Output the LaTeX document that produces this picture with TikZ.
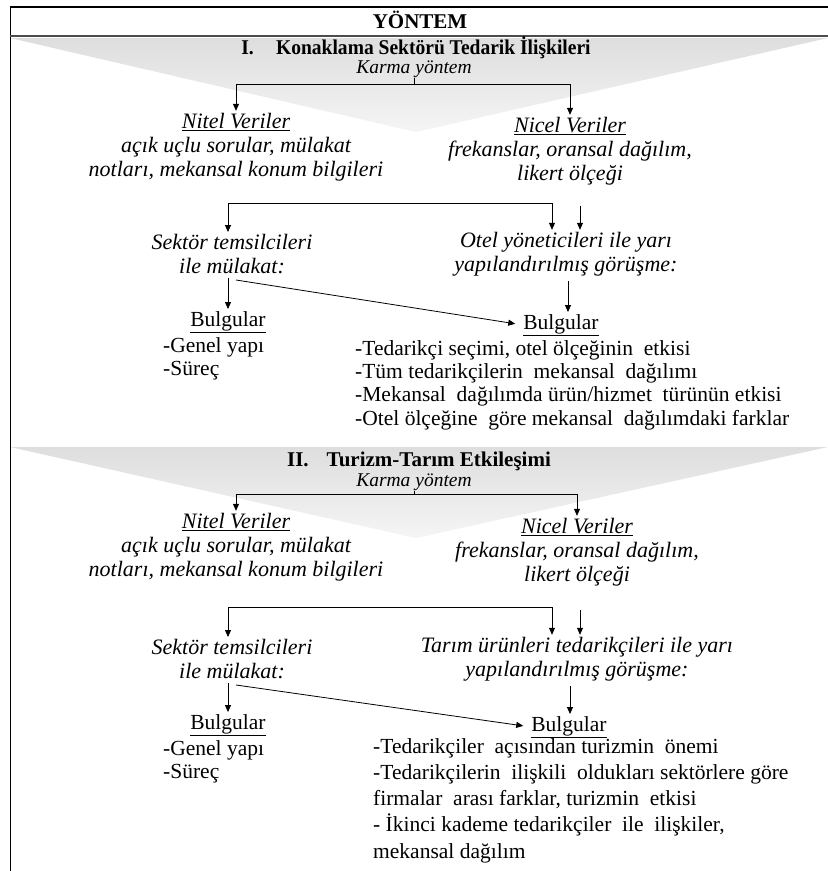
\documentclass[tikz,border=0pt]{standalone}
\usepackage{fontspec}
\setmainfont{Liberation Serif}
\usetikzlibrary{arrows.meta}
\begin{document}
\begin{tikzpicture}[x=1pt,y=-1pt,
  hd/.style={font=\bfseries\fontsize{21}{24}\selectfont, inner sep=0pt},
  itx/.style={font=\itshape\fontsize{22}{24}\selectfont, align=center, inner sep=0pt},
  kar/.style={font=\itshape\fontsize{19.5}{22}\selectfont, inner sep=0pt},
  rm/.style={font=\fontsize{21.5}{23.3}\selectfont, align=left, inner sep=0pt},
  rmb/.style={font=\fontsize{21.5}{26.2}\selectfont, align=left, inner sep=0pt},
  ul/.style={font=\fontsize{21.5}{24}\selectfont, inner sep=0pt},
  arr/.style={-{Triangle[length=7pt,width=6pt]}, line width=0.8pt, shorten >=2pt},
  ln/.style={line width=0.8pt},
  tri/.style={top color=black!13, bottom color=black!4}]
\useasboundingbox (0,0) rectangle (828,871);
% background chevrons
\shade[tri] (10,38) -- (828,38) -- (416,132) -- cycle;
\shade[tri] (10,447) -- (828,447) -- (416,538) -- cycle;
% frame
\draw[line width=1.4pt] (10,7) -- (828,7);
\draw[line width=1.4pt] (10.5,7) -- (10.5,871);
\draw[line width=1.6pt, black!70] (10,36) -- (828,36);
% ---------- Section I
\node[hd] (title) at (420,20) {YÖNTEM};
\node[hd] (h1) at (416,48) {\scalebox{0.93}[1]{I.\hspace{24pt}Konaklama Sektörü Tedarik İlişkileri}};
\node[kar] (k1) at (414,69) {Karma yöntem};
\coordinate (b1) at (414,84);
\node[itx] (nitel1) at (236,147) {\underline{Nitel Veriler}\\açık uçlu sorular, mülakat\\notları, mekansal konum bilgileri};
\node[itx] (nicel1) at (570,151) {\underline{Nicel Veriler}\\frekanslar, oransal dağılım,\\likert ölçeği};
\draw[ln] (k1.south) -- (b1);
\draw[arr] (b1) -| (nitel1.north);
\draw[arr] (b1) -| (nicel1.north);
\coordinate (c1) at (228,203);
\coordinate (d1) at (580,206);
\node[itx] (sek1) at (232,254) {Sektör temsilcileri\\ile mülakat:};
\node[itx] (otel1) at (566,254) {Otel yöneticileri ile yarı\\yapılandırılmış görüşme:};
\draw[arr] (c1) -- (c1 |- sek1.north);
\draw[arr] (c1) -| ([xshift=-14pt]otel1.north);
\draw[arr] (d1) -- (d1 |- otel1.north);
\node[ul] (bulL1) at (228,322) {\underline{Bulgular}};
\node[ul] (bulR1) at (561,325) {\underline{Bulgular}};
\draw[arr] ([yshift=-4pt]sek1.south -| bulL1.north) -- (bulL1.north);
\draw[arr, shorten >=8pt] ([shift={(4pt,-6pt)}]sek1.south) -- (bulR1.west);
\draw[arr] ([shift={(2pt,-5pt)}]otel1.south) -- ([xshift=2pt]otel1.south |- bulR1.north);
\node[rm, anchor=west] (gL1) at (163,358.5) {-Genel yapı\\-Süreç};
\node[rm, anchor=west] (gR1) at (355,385) {-Tedarikçi seçimi, otel ölçeğinin\ \ etkisi\\-Tüm tedarikçilerin\ \ mekansal\ \ dağılımı\\-Mekansal\ \ dağılımda ürün/hizmet\ \ türünün etkisi\\-Otel ölçeğine\ \ göre mekansal\ \ dağılımdaki farklar};
% ---------- Section II
\node[hd] (h2) at (419,461) {II.\hspace{18pt}Turizm-Tarım Etkileşimi};
\node[kar] (k2) at (414,482) {Karma yöntem};
\coordinate (b2) at (414,494);
\node[itx] (nitel2) at (236,547) {\underline{Nitel Veriler}\\açık uçlu sorular, mülakat\\notları, mekansal konum bilgileri};
\node[itx] (nicel2) at (577,552) {\underline{Nicel Veriler}\\frekanslar, oransal dağılım,\\likert ölçeği};
\draw[ln] (k2.south) -- (b2);
\draw[arr] (b2) -| (nitel2.north);
\draw[arr] (b2) -| (nicel2.north);
\coordinate (c2) at (228,607);
\coordinate (d2) at (580,610);
\node[itx] (sek2) at (232,659) {Sektör temsilcileri\\ile mülakat:};
\node[itx] (tar2) at (577,659) {Tarım ürünleri tedarikçileri ile yarı\\yapılandırılmış görüşme:};
\draw[arr] (c2) -- (c2 |- sek2.north);
\draw[arr] (c2) -| ([xshift=-25pt]tar2.north);
\draw[arr] (d2) -- (d2 |- tar2.north);
\node[ul] (bulL2) at (228,725) {\underline{Bulgular}};
\node[ul] (bulR2) at (569,727) {\underline{Bulgular}};
\draw[arr] ([yshift=-4pt]sek2.south -| bulL2.north) -- (bulL2.north);
\draw[arr, shorten >=8pt] ([shift={(4pt,-6pt)}]sek2.south) -- (bulR2.west);
\draw[arr] ([shift={(-7pt,-5pt)}]tar2.south) -- ([xshift=-7pt]tar2.south |- bulR2.north);
\node[rm, anchor=west] (gL2) at (163,761.5) {-Genel yapı\\-Süreç};
\node[rmb, anchor=west] (gR2) at (373,800.5) {-Tedarikçiler\ \ açısından turizmin\ \ önemi\\-Tedarikçilerin\ \ ilişkili\ \ oldukları sektörlere göre\\firmalar\ \ arası farklar, turizmin\ \ etkisi\\- İkinci kademe tedarikçiler\ \ ile\ \ ilişkiler,\\mekansal dağılım};
\end{tikzpicture}
\end{document}
